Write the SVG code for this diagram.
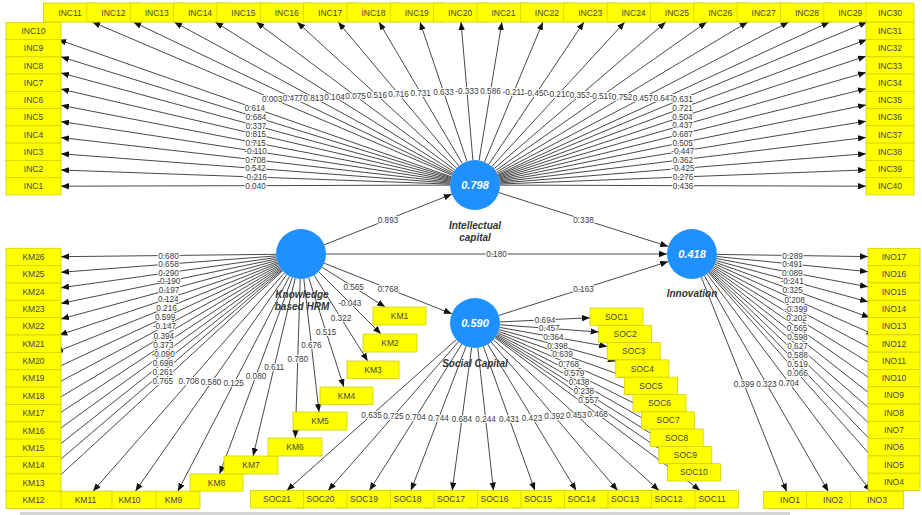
<svg xmlns="http://www.w3.org/2000/svg" width="922" height="515" viewBox="0 0 922 515">
<defs>
<style>
.c{stroke:#333;stroke-width:0.9;fill:none;marker-end:url(#ah)}
.v{font-family:"Liberation Sans",Arial,sans-serif;font-size:8.2px;fill:#3a3a3a;text-anchor:middle;stroke:#fff;stroke-width:2.2px;paint-order:stroke;stroke-linejoin:round}
.b{fill:#ffff00;stroke:#d2d200;stroke-width:0.8}
.t{font-family:"Liberation Sans",Arial,sans-serif;font-size:8.5px;fill:#444;text-anchor:middle}
.lv{fill:#1e90ff}
.cv{font-family:"Liberation Sans",Arial,sans-serif;font-size:11px;font-weight:bold;font-style:italic;fill:#fff;text-anchor:middle}
.cn{font-family:"Liberation Sans",Arial,sans-serif;font-size:10px;font-weight:bold;font-style:italic;fill:#333;text-anchor:middle}
</style>
<marker id="ah" viewBox="0 0 10 8" refX="10" refY="4" markerWidth="8" markerHeight="6.4" markerUnits="userSpaceOnUse" orient="auto"><path d="M0,0 L10,4 L0,8 z" fill="#111"/></marker>
</defs>
<rect width="922" height="515" fill="#fff"/>
<rect x="20" y="512" width="770" height="3" fill="#d4d4d4"/>

<g id="KHRM"><circle class="lv" cx="301" cy="254" r="25"/><text class="cn" x="302" y="297.5">Knowledge</text><text class="cn" x="302" y="310">based HRM</text></g>
<g id="IC"><circle class="lv" cx="475" cy="185" r="25"/><text class="cv" x="475" y="189">0.798</text><text class="cn" x="475" y="228.5">Intellectual</text><text class="cn" x="475" y="241">capital</text></g>
<g id="SC"><circle class="lv" cx="475" cy="323" r="25"/><text class="cv" x="475" y="327">0.590</text><text class="cn" x="475" y="366.5">Social Capital</text></g>
<g id="INN"><circle class="lv" cx="692" cy="254" r="25"/><text class="cv" x="692" y="258">0.418</text><text class="cn" x="692" y="297">Innovation</text></g>

<g id="connectors">
<line class="c" x1="452.0" y1="175.2" x2="92.3" y2="22"/>
<line class="c" x1="452.4" y1="174.2" x2="133.3" y2="22"/>
<line class="c" x1="453.0" y1="173.1" x2="174.2" y2="22"/>
<line class="c" x1="453.8" y1="171.7" x2="215.2" y2="22"/>
<line class="c" x1="455.0" y1="170.1" x2="256.2" y2="22"/>
<line class="c" x1="456.6" y1="168.1" x2="297.1" y2="22"/>
<line class="c" x1="458.9" y1="165.9" x2="338.1" y2="22"/>
<line class="c" x1="462.3" y1="163.5" x2="379.0" y2="22"/>
<line class="c" x1="467.0" y1="161.3" x2="420.0" y2="22"/>
<line class="c" x1="472.9" y1="160.1" x2="461.0" y2="22"/>
<line class="c" x1="479.1" y1="160.3" x2="501.9" y2="22"/>
<line class="c" x1="484.6" y1="161.9" x2="542.9" y2="22"/>
<line class="c" x1="488.9" y1="164.2" x2="583.9" y2="22"/>
<line class="c" x1="491.9" y1="166.6" x2="624.8" y2="22"/>
<line class="c" x1="494.0" y1="168.8" x2="665.8" y2="22"/>
<line class="c" x1="495.5" y1="170.6" x2="706.7" y2="22"/>
<line class="c" x1="496.5" y1="172.2" x2="747.7" y2="22"/>
<line class="c" x1="497.2" y1="173.5" x2="788.7" y2="22"/>
<line class="c" x1="497.7" y1="174.6" x2="829.6" y2="22"/>
<line class="c" x1="498.1" y1="175.4" x2="867.1" y2="22"/>
<line class="c" x1="451.4" y1="176.8" x2="58.1" y2="39.6"/>
<line class="c" x1="451.1" y1="177.6" x2="61" y2="56.8"/>
<line class="c" x1="450.9" y1="178.5" x2="61" y2="72.9"/>
<line class="c" x1="450.6" y1="179.4" x2="61" y2="89.1"/>
<line class="c" x1="450.4" y1="180.3" x2="61" y2="105.3"/>
<line class="c" x1="450.3" y1="181.2" x2="61" y2="121.5"/>
<line class="c" x1="450.2" y1="182.2" x2="61" y2="137.6"/>
<line class="c" x1="450.1" y1="183.1" x2="61" y2="153.8"/>
<line class="c" x1="450.0" y1="184.1" x2="61" y2="170.0"/>
<line class="c" x1="450.0" y1="185.1" x2="61" y2="186.2"/>
<line class="c" x1="498.4" y1="176.3" x2="866.8" y2="39.6"/>
<line class="c" x1="498.7" y1="177.2" x2="866" y2="56.2"/>
<line class="c" x1="499.0" y1="178.1" x2="866" y2="72.4"/>
<line class="c" x1="499.3" y1="179.0" x2="866" y2="88.7"/>
<line class="c" x1="499.5" y1="180.0" x2="866" y2="104.9"/>
<line class="c" x1="499.7" y1="181.0" x2="866" y2="121.2"/>
<line class="c" x1="499.8" y1="182.0" x2="866" y2="137.4"/>
<line class="c" x1="499.9" y1="183.0" x2="866" y2="153.7"/>
<line class="c" x1="500.0" y1="184.0" x2="866" y2="169.9"/>
<line class="c" x1="500.0" y1="185.1" x2="866" y2="186.2"/>
<line class="c" x1="324.2" y1="244.8" x2="451.8" y2="194.2"/>
<line class="c" x1="326" y1="254" x2="667" y2="254"/>
<line class="c" x1="324.2" y1="263.2" x2="451.8" y2="313.8"/>
<line class="c" x1="498.8" y1="192.6" x2="668.2" y2="246.4"/>
<line class="c" x1="498.8" y1="315.4" x2="668.2" y2="261.6"/>
<line class="c" x1="276.0" y1="254.3" x2="61" y2="256.7"/>
<line class="c" x1="276.1" y1="255.9" x2="61" y2="272.3"/>
<line class="c" x1="276.2" y1="257.5" x2="61" y2="287.8"/>
<line class="c" x1="276.5" y1="259.0" x2="61" y2="303.4"/>
<line class="c" x1="276.9" y1="260.5" x2="61" y2="319.0"/>
<line class="c" x1="277.3" y1="262.0" x2="59.3" y2="335.1"/>
<line class="c" x1="277.8" y1="263.3" x2="55.1" y2="352.4"/>
<line class="c" x1="278.3" y1="264.5" x2="52.1" y2="369.8"/>
<line class="c" x1="278.9" y1="265.7" x2="49.8" y2="387.1"/>
<line class="c" x1="279.5" y1="266.8" x2="48.0" y2="404.5"/>
<line class="c" x1="280.1" y1="267.8" x2="46.6" y2="421.8"/>
<line class="c" x1="280.8" y1="268.7" x2="45.4" y2="439.2"/>
<line class="c" x1="281.4" y1="269.5" x2="44.5" y2="456.5"/>
<line class="c" x1="282.0" y1="270.2" x2="43.6" y2="473.9"/>
<line class="c" x1="282.6" y1="270.9" x2="42.9" y2="491.2"/>
<line class="c" x1="284.5" y1="272.8" x2="93.0" y2="491.2"/>
<line class="c" x1="286.7" y1="274.5" x2="135.4" y2="491.2"/>
<line class="c" x1="289.5" y1="276.2" x2="177.9" y2="491.2"/>
<line class="c" x1="292.3" y1="277.5" x2="219.6" y2="474"/>
<line class="c" x1="295.2" y1="278.3" x2="253.1" y2="456"/>
<line class="c" x1="300.2" y1="279.0" x2="295.3" y2="438"/>
<line class="c" x1="303.8" y1="278.8" x2="319.0" y2="412"/>
<line class="c" x1="308.7" y1="277.8" x2="343.8" y2="387"/>
<line class="c" x1="314.2" y1="275.2" x2="367.7" y2="361"/>
<line class="c" x1="318.7" y1="271.7" x2="381.0" y2="334"/>
<line class="c" x1="322.2" y1="267.3" x2="385.2" y2="307"/>
<line class="c" x1="500.0" y1="321.9" x2="590" y2="317.8"/>
<line class="c" x1="499.9" y1="324.8" x2="598.6" y2="332.0"/>
<line class="c" x1="499.6" y1="327.4" x2="607.2" y2="346.5"/>
<line class="c" x1="499.1" y1="329.6" x2="615.8" y2="361.3"/>
<line class="c" x1="498.5" y1="331.4" x2="626.7" y2="377.2"/>
<line class="c" x1="497.9" y1="333.0" x2="639.6" y2="394.5"/>
<line class="c" x1="497.3" y1="334.3" x2="651.0" y2="411.8"/>
<line class="c" x1="496.7" y1="335.4" x2="661.5" y2="429.1"/>
<line class="c" x1="496.2" y1="336.3" x2="671.5" y2="446.4"/>
<line class="c" x1="495.7" y1="337.1" x2="681.2" y2="463.7"/>
<line class="c" x1="456.3" y1="339.6" x2="286.8" y2="490.5"/>
<line class="c" x1="458.5" y1="341.8" x2="328.2" y2="490.5"/>
<line class="c" x1="461.7" y1="344.2" x2="369.5" y2="490.5"/>
<line class="c" x1="466.1" y1="346.4" x2="410.9" y2="490.5"/>
<line class="c" x1="471.6" y1="347.8" x2="452.2" y2="490.5"/>
<line class="c" x1="477.8" y1="347.9" x2="493.5" y2="490.5"/>
<line class="c" x1="483.4" y1="346.5" x2="534.9" y2="490.5"/>
<line class="c" x1="487.9" y1="344.4" x2="576.2" y2="490.5"/>
<line class="c" x1="491.2" y1="342.0" x2="617.6" y2="490.5"/>
<line class="c" x1="493.5" y1="339.8" x2="658.9" y2="490.5"/>
<line class="c" x1="495.1" y1="337.9" x2="700.2" y2="490.5"/>
<line class="c" x1="717.0" y1="254.4" x2="868" y2="256.6"/>
<line class="c" x1="716.9" y1="256.5" x2="868" y2="271.7"/>
<line class="c" x1="716.6" y1="258.6" x2="868" y2="286.8"/>
<line class="c" x1="716.1" y1="260.6" x2="868" y2="301.8"/>
<line class="c" x1="715.5" y1="262.4" x2="869.8" y2="317.5"/>
<line class="c" x1="714.9" y1="264.1" x2="874.5" y2="334.8"/>
<line class="c" x1="714.1" y1="265.7" x2="877.6" y2="352.1"/>
<line class="c" x1="713.3" y1="267.1" x2="879.9" y2="369.4"/>
<line class="c" x1="712.5" y1="268.3" x2="881.6" y2="386.7"/>
<line class="c" x1="711.7" y1="269.4" x2="883.0" y2="404.0"/>
<line class="c" x1="710.9" y1="270.4" x2="884.1" y2="421.3"/>
<line class="c" x1="710.1" y1="271.3" x2="885.0" y2="438.6"/>
<line class="c" x1="709.3" y1="272.0" x2="885.7" y2="455.9"/>
<line class="c" x1="708.6" y1="272.7" x2="886.3" y2="473.2"/>
<line class="c" x1="701.3" y1="277.2" x2="786.7" y2="491.5"/>
<line class="c" x1="704.4" y1="275.7" x2="828.3" y2="491.5"/>
<line class="c" x1="707.0" y1="274.0" x2="870.8" y2="491.5"/>

<text class="v" x="272.2" y="101.6">0.003</text>
<text class="v" x="292.9" y="101.1">0.477</text>
<text class="v" x="313.6" y="100.6">0.813</text>
<text class="v" x="334.5" y="99.9">0.104</text>
<text class="v" x="355.6" y="99.0">0.075</text>
<text class="v" x="376.9" y="98.1">0.516</text>
<text class="v" x="398.5" y="97.0">0.716</text>
<text class="v" x="420.7" y="95.8">0.731</text>
<text class="v" x="443.5" y="94.7">0.633</text>
<text class="v" x="466.9" y="94.0">-0.333</text>
<text class="v" x="490.5" y="94.2">0.586</text>
<text class="v" x="513.8" y="95.0">-0.211</text>
<text class="v" x="536.4" y="96.1">-0.450</text>
<text class="v" x="558.4" y="97.3">-0.210</text>
<text class="v" x="579.9" y="98.4">0.353</text>
<text class="v" x="601.1" y="99.3">-0.519</text>
<text class="v" x="622.1" y="100.1">0.752</text>
<text class="v" x="642.9" y="100.7">0.457</text>
<text class="v" x="663.7" y="101.3">0.647</text>
<text class="v" x="682.6" y="101.7">0.631</text>
<text class="v" x="254.8" y="111.2">0.614</text>
<text class="v" x="256.1" y="120.2">0.684</text>
<text class="v" x="256.0" y="128.7">0.337</text>
<text class="v" x="255.8" y="137.3">0.815</text>
<text class="v" x="255.7" y="145.8">0.715</text>
<text class="v" x="255.6" y="154.3">-0.110</text>
<text class="v" x="255.6" y="162.9">0.708</text>
<text class="v" x="255.5" y="171.4">0.542</text>
<text class="v" x="255.5" y="180.0">-0.216</text>
<text class="v" x="255.5" y="188.6">0.040</text>
<text class="v" x="682.6" y="111.0">0.721</text>
<text class="v" x="682.4" y="119.7">0.504</text>
<text class="v" x="682.5" y="128.3">0.437</text>
<text class="v" x="682.6" y="136.8">0.687</text>
<text class="v" x="682.7" y="145.5">0.505</text>
<text class="v" x="682.8" y="154.1">-0.447</text>
<text class="v" x="682.9" y="162.7">0.362</text>
<text class="v" x="682.9" y="171.4">-0.425</text>
<text class="v" x="683.0" y="180.0">0.276</text>
<text class="v" x="683.0" y="188.6">0.436</text>
<text class="v" x="388" y="222.5">0.893</text>
<text class="v" x="496.5" y="257">0.180</text>
<text class="v" x="388" y="291.5">0.768</text>
<text class="v" x="583.5" y="222.5">0.338</text>
<text class="v" x="583.5" y="291.5">0.163</text>
<text class="v" x="168.5" y="258.5">0.680</text>
<text class="v" x="168.5" y="267.1">0.658</text>
<text class="v" x="168.6" y="275.7">0.290</text>
<text class="v" x="168.8" y="284.2">-0.190</text>
<text class="v" x="169.0" y="292.7">0.197</text>
<text class="v" x="168.3" y="301.5">0.124</text>
<text class="v" x="166.5" y="310.9">0.216</text>
<text class="v" x="165.2" y="320.2">0.599</text>
<text class="v" x="164.4" y="329.4">-0.147</text>
<text class="v" x="163.8" y="338.6">0.394</text>
<text class="v" x="163.4" y="347.8">0.373</text>
<text class="v" x="163.1" y="357.0">-0.090</text>
<text class="v" x="162.9" y="366.0">0.698</text>
<text class="v" x="162.8" y="375.1">0.261</text>
<text class="v" x="162.8" y="384.1">0.765</text>
<text class="v" x="188.8" y="384.0">0.708</text>
<text class="v" x="211.0" y="384.9">0.580</text>
<text class="v" x="233.7" y="385.7">0.125</text>
<text class="v" x="256.0" y="378.7">0.080</text>
<text class="v" x="274.2" y="370.2">0.611</text>
<text class="v" x="297.8" y="361.5">0.780</text>
<text class="v" x="311.4" y="348.4">0.676</text>
<text class="v" x="326.2" y="335.4">0.515</text>
<text class="v" x="341.0" y="321.1">0.322</text>
<text class="v" x="349.8" y="305.9">-0.043</text>
<text class="v" x="353.7" y="290.2">0.565</text>
<text class="v" x="545.0" y="322.8">0.694</text>
<text class="v" x="549.3" y="331.4">0.457</text>
<text class="v" x="553.4" y="340.0">0.364</text>
<text class="v" x="557.5" y="348.5">0.398</text>
<text class="v" x="562.6" y="357.3">0.639</text>
<text class="v" x="568.8" y="366.7">0.768</text>
<text class="v" x="574.2" y="376.0">0.579</text>
<text class="v" x="579.1" y="385.2">0.438</text>
<text class="v" x="583.8" y="394.3">0.238</text>
<text class="v" x="588.4" y="403.4">0.557</text>
<text class="v" x="371.6" y="418.1">0.635</text>
<text class="v" x="393.4" y="419.2">0.725</text>
<text class="v" x="415.6" y="420.4">0.704</text>
<text class="v" x="438.5" y="421.4">0.744</text>
<text class="v" x="461.9" y="422.1">0.684</text>
<text class="v" x="485.6" y="422.2">0.244</text>
<text class="v" x="509.2" y="421.5">0.431</text>
<text class="v" x="532.0" y="420.5">0.423</text>
<text class="v" x="554.4" y="419.3">0.392</text>
<text class="v" x="576.2" y="418.2">0.453</text>
<text class="v" x="597.6" y="417.2">0.468</text>
<text class="v" x="792.5" y="258.5">0.289</text>
<text class="v" x="792.4" y="267.1">0.491</text>
<text class="v" x="792.3" y="275.7">0.089</text>
<text class="v" x="792.1" y="284.2">-0.241</text>
<text class="v" x="792.7" y="293.0">0.325</text>
<text class="v" x="794.7" y="302.5">0.208</text>
<text class="v" x="795.9" y="311.9">-0.399</text>
<text class="v" x="796.6" y="321.3">0.202</text>
<text class="v" x="797.1" y="330.5">0.565</text>
<text class="v" x="797.4" y="339.7">0.598</text>
<text class="v" x="797.5" y="348.9">0.627</text>
<text class="v" x="797.5" y="358.0">0.588</text>
<text class="v" x="797.5" y="367.0">0.519</text>
<text class="v" x="797.5" y="376.0">0.066</text>
<text class="v" x="744.0" y="387.4">0.399</text>
<text class="v" x="766.4" y="386.6">0.323</text>
<text class="v" x="788.9" y="385.8">0.704</text>
</g>

<g id="INC11"><rect class="b" x="43.5" y="3" width="53" height="19"/><text class="t" x="70" y="15.5">INC11</text></g>
<g id="INC12"><rect class="b" x="86.85" y="3" width="53" height="19"/><text class="t" x="113.35" y="15.5">INC12</text></g>
<g id="INC13"><rect class="b" x="130.2" y="3" width="53" height="19"/><text class="t" x="156.7" y="15.5">INC13</text></g>
<g id="INC14"><rect class="b" x="173.55" y="3" width="53" height="19"/><text class="t" x="200.05" y="15.5">INC14</text></g>
<g id="INC15"><rect class="b" x="216.9" y="3" width="53" height="19"/><text class="t" x="243.4" y="15.5">INC15</text></g>
<g id="INC16"><rect class="b" x="260.25" y="3" width="53" height="19"/><text class="t" x="286.75" y="15.5">INC16</text></g>
<g id="INC17"><rect class="b" x="303.6" y="3" width="53" height="19"/><text class="t" x="330.1" y="15.5">INC17</text></g>
<g id="INC18"><rect class="b" x="346.95" y="3" width="53" height="19"/><text class="t" x="373.45" y="15.5">INC18</text></g>
<g id="INC19"><rect class="b" x="390.3" y="3" width="53" height="19"/><text class="t" x="416.8" y="15.5">INC19</text></g>
<g id="INC20"><rect class="b" x="433.65" y="3" width="53" height="19"/><text class="t" x="460.15" y="15.5">INC20</text></g>
<g id="INC21"><rect class="b" x="477" y="3" width="53" height="19"/><text class="t" x="503.5" y="15.5">INC21</text></g>
<g id="INC22"><rect class="b" x="520.35" y="3" width="53" height="19"/><text class="t" x="546.85" y="15.5">INC22</text></g>
<g id="INC23"><rect class="b" x="563.7" y="3" width="53" height="19"/><text class="t" x="590.2" y="15.5">INC23</text></g>
<g id="INC24"><rect class="b" x="607.05" y="3" width="53" height="19"/><text class="t" x="633.55" y="15.5">INC24</text></g>
<g id="INC25"><rect class="b" x="650.4" y="3" width="53" height="19"/><text class="t" x="676.9" y="15.5">INC25</text></g>
<g id="INC26"><rect class="b" x="693.75" y="3" width="53" height="19"/><text class="t" x="720.25" y="15.5">INC26</text></g>
<g id="INC27"><rect class="b" x="737.1" y="3" width="53" height="19"/><text class="t" x="763.6" y="15.5">INC27</text></g>
<g id="INC28"><rect class="b" x="780.45" y="3" width="53" height="19"/><text class="t" x="806.95" y="15.5">INC28</text></g>
<g id="INC29"><rect class="b" x="823.8" y="3" width="53" height="19"/><text class="t" x="850.3" y="15.5">INC29</text></g>
<g id="INC30"><rect class="b" x="866" y="3" width="48" height="19"/><text class="t" x="890" y="15.5">INC30</text></g>

<g id="INC10"><rect class="b" x="6" y="22.4" width="55" height="17.25"/><text class="t" x="33.5" y="34">INC10</text></g>
<g id="INC9"><rect class="b" x="6" y="39.65" width="55" height="17.25"/><text class="t" x="33.5" y="51.25">INC9</text></g>
<g id="INC8"><rect class="b" x="6" y="56.9" width="55" height="17.25"/><text class="t" x="33.5" y="68.5">INC8</text></g>
<g id="INC7"><rect class="b" x="6" y="74.15" width="55" height="17.25"/><text class="t" x="33.5" y="85.75">INC7</text></g>
<g id="INC6"><rect class="b" x="6" y="91.4" width="55" height="17.25"/><text class="t" x="33.5" y="103">INC6</text></g>
<g id="INC5"><rect class="b" x="6" y="108.65" width="55" height="17.25"/><text class="t" x="33.5" y="120.25">INC5</text></g>
<g id="INC4"><rect class="b" x="6" y="125.9" width="55" height="17.25"/><text class="t" x="33.5" y="137.5">INC4</text></g>
<g id="INC3"><rect class="b" x="6" y="143.15" width="55" height="17.25"/><text class="t" x="33.5" y="154.75">INC3</text></g>
<g id="INC2"><rect class="b" x="6" y="160.4" width="55" height="17.25"/><text class="t" x="33.5" y="172">INC2</text></g>
<g id="INC1"><rect class="b" x="6" y="177.65" width="55" height="17.25"/><text class="t" x="33.5" y="189.25">INC1</text></g>

<g id="INC31"><rect class="b" x="866" y="22.4" width="48" height="17.25"/><text class="t" x="890" y="34">INC31</text></g>
<g id="INC32"><rect class="b" x="866" y="39.65" width="48" height="17.25"/><text class="t" x="890" y="51.25">INC32</text></g>
<g id="INC33"><rect class="b" x="866" y="56.9" width="48" height="17.25"/><text class="t" x="890" y="68.5">INC33</text></g>
<g id="INC34"><rect class="b" x="866" y="74.15" width="48" height="17.25"/><text class="t" x="890" y="85.75">INC34</text></g>
<g id="INC35"><rect class="b" x="866" y="91.4" width="48" height="17.25"/><text class="t" x="890" y="103">INC35</text></g>
<g id="INC36"><rect class="b" x="866" y="108.65" width="48" height="17.25"/><text class="t" x="890" y="120.25">INC36</text></g>
<g id="INC37"><rect class="b" x="866" y="125.9" width="48" height="17.25"/><text class="t" x="890" y="137.5">INC37</text></g>
<g id="INC38"><rect class="b" x="866" y="143.15" width="48" height="17.25"/><text class="t" x="890" y="154.75">INC38</text></g>
<g id="INC39"><rect class="b" x="866" y="160.4" width="48" height="17.25"/><text class="t" x="890" y="172">INC39</text></g>
<g id="INC40"><rect class="b" x="866" y="177.65" width="48" height="17.25"/><text class="t" x="890" y="189.25">INC40</text></g>

<g id="KM26"><rect class="b" x="6" y="248.3" width="55" height="17.35"/><text class="t" x="33.5" y="260">KM26</text></g>
<g id="KM25"><rect class="b" x="6" y="265.65" width="55" height="17.35"/><text class="t" x="33.5" y="277.35">KM25</text></g>
<g id="KM24"><rect class="b" x="6" y="283" width="55" height="17.35"/><text class="t" x="33.5" y="294.7">KM24</text></g>
<g id="KM23"><rect class="b" x="6" y="300.35" width="55" height="17.35"/><text class="t" x="33.5" y="312.05">KM23</text></g>
<g id="KM22"><rect class="b" x="6" y="317.7" width="55" height="17.35"/><text class="t" x="33.5" y="329.4">KM22</text></g>
<g id="KM21"><rect class="b" x="6" y="335.05" width="55" height="17.35"/><text class="t" x="33.5" y="346.75">KM21</text></g>
<g id="KM20"><rect class="b" x="6" y="352.4" width="55" height="17.35"/><text class="t" x="33.5" y="364.1">KM20</text></g>
<g id="KM19"><rect class="b" x="6" y="369.75" width="55" height="17.35"/><text class="t" x="33.5" y="381.45">KM19</text></g>
<g id="KM18"><rect class="b" x="6" y="387.1" width="55" height="17.35"/><text class="t" x="33.5" y="398.8">KM18</text></g>
<g id="KM17"><rect class="b" x="6" y="404.45" width="55" height="17.35"/><text class="t" x="33.5" y="416.15">KM17</text></g>
<g id="KM16"><rect class="b" x="6" y="421.8" width="55" height="17.35"/><text class="t" x="33.5" y="433.5">KM16</text></g>
<g id="KM15"><rect class="b" x="6" y="439.15" width="55" height="17.35"/><text class="t" x="33.5" y="450.85">KM15</text></g>
<g id="KM14"><rect class="b" x="6" y="456.5" width="55" height="17.35"/><text class="t" x="33.5" y="468.2">KM14</text></g>
<g id="KM13"><rect class="b" x="6" y="473.85" width="55" height="17.35"/><text class="t" x="33.5" y="485.55">KM13</text></g>
<g id="KM9"><rect class="b" x="147" y="491.2" width="53" height="17.35"/><text class="t" x="173.5" y="502.9">KM9</text></g>
<g id="KM10"><rect class="b" x="103" y="491.2" width="53" height="17.35"/><text class="t" x="129.5" y="502.9">KM10</text></g>
<g id="KM11"><rect class="b" x="59" y="491.2" width="53" height="17.35"/><text class="t" x="85.5" y="502.9">KM11</text></g>
<g id="KM12"><rect class="b" x="6" y="491.2" width="55" height="17.35"/><text class="t" x="33.5" y="502.9">KM12</text></g>
<g id="KM8"><rect class="b" x="190" y="474" width="53" height="17.2"/><text class="t" x="216.5" y="485.6">KM8</text></g>
<g id="KM7"><rect class="b" x="224" y="456" width="54" height="18"/><text class="t" x="251" y="468">KM7</text></g>
<g id="KM6"><rect class="b" x="268" y="438" width="54" height="18"/><text class="t" x="295" y="450">KM6</text></g>
<g id="KM5"><rect class="b" x="293" y="412" width="54" height="18"/><text class="t" x="320" y="424">KM5</text></g>
<g id="KM4"><rect class="b" x="320" y="387" width="53" height="17.5"/><text class="t" x="346.5" y="398.7">KM4</text></g>
<g id="KM3"><rect class="b" x="347" y="361" width="52" height="17.5"/><text class="t" x="373" y="372.7">KM3</text></g>
<g id="KM2"><rect class="b" x="363" y="334" width="54" height="18"/><text class="t" x="390" y="346">KM2</text></g>
<g id="KM1"><rect class="b" x="373" y="307" width="53" height="18"/><text class="t" x="399.5" y="319">KM1</text></g>

<g id="SOC1"><rect class="b" x="590" y="308" width="53" height="17.3"/><text class="t" x="616.5" y="319.6">SOC1</text></g>
<g id="SOC2"><rect class="b" x="598.6" y="325.3" width="53" height="17.3"/><text class="t" x="625.1" y="336.9">SOC2</text></g>
<g id="SOC3"><rect class="b" x="607.2" y="342.6" width="53" height="17.3"/><text class="t" x="633.7" y="354.2">SOC3</text></g>
<g id="SOC4"><rect class="b" x="615.8" y="359.9" width="53" height="17.3"/><text class="t" x="642.3" y="371.5">SOC4</text></g>
<g id="SOC5"><rect class="b" x="624.4" y="377.2" width="53" height="17.3"/><text class="t" x="650.9" y="388.8">SOC5</text></g>
<g id="SOC6"><rect class="b" x="633" y="394.5" width="53" height="17.3"/><text class="t" x="659.5" y="406.1">SOC6</text></g>
<g id="SOC7"><rect class="b" x="641.6" y="411.8" width="53" height="17.3"/><text class="t" x="668.1" y="423.4">SOC7</text></g>
<g id="SOC8"><rect class="b" x="650.2" y="429.1" width="53" height="17.3"/><text class="t" x="676.7" y="440.7">SOC8</text></g>
<g id="SOC9"><rect class="b" x="658.8" y="446.4" width="53" height="17.3"/><text class="t" x="685.3" y="458">SOC9</text></g>
<g id="SOC10"><rect class="b" x="667.4" y="463.7" width="53" height="17.3"/><text class="t" x="693.9" y="475.3">SOC10</text></g>

<g id="SOC11"><rect class="b" x="685.5" y="490.5" width="53" height="17.5"/><text class="t" x="712" y="502.3">SOC11</text></g>
<g id="SOC12"><rect class="b" x="642" y="490.5" width="53" height="17.5"/><text class="t" x="668.5" y="502.3">SOC12</text></g>
<g id="SOC13"><rect class="b" x="598.5" y="490.5" width="53" height="17.5"/><text class="t" x="625" y="502.3">SOC13</text></g>
<g id="SOC14"><rect class="b" x="555" y="490.5" width="53" height="17.5"/><text class="t" x="581.5" y="502.3">SOC14</text></g>
<g id="SOC15"><rect class="b" x="511.5" y="490.5" width="53" height="17.5"/><text class="t" x="538" y="502.3">SOC15</text></g>
<g id="SOC16"><rect class="b" x="468" y="490.5" width="53" height="17.5"/><text class="t" x="494.5" y="502.3">SOC16</text></g>
<g id="SOC17"><rect class="b" x="424.5" y="490.5" width="53" height="17.5"/><text class="t" x="451" y="502.3">SOC17</text></g>
<g id="SOC18"><rect class="b" x="381" y="490.5" width="53" height="17.5"/><text class="t" x="407.5" y="502.3">SOC18</text></g>
<g id="SOC19"><rect class="b" x="337.5" y="490.5" width="53" height="17.5"/><text class="t" x="364" y="502.3">SOC19</text></g>
<g id="SOC20"><rect class="b" x="294" y="490.5" width="53" height="17.5"/><text class="t" x="320.5" y="502.3">SOC20</text></g>
<g id="SOC21"><rect class="b" x="250.5" y="490.5" width="53" height="17.5"/><text class="t" x="277" y="502.3">SOC21</text></g>

<g id="INO17"><rect class="b" x="868" y="248.35" width="52" height="17.3"/><text class="t" x="894" y="260">INO17</text></g>
<g id="INO16"><rect class="b" x="868" y="265.65" width="52" height="17.3"/><text class="t" x="894" y="277.3">INO16</text></g>
<g id="INO15"><rect class="b" x="868" y="282.95" width="52" height="17.3"/><text class="t" x="894" y="294.6">INO15</text></g>
<g id="INO14"><rect class="b" x="868" y="300.25" width="52" height="17.3"/><text class="t" x="894" y="311.9">INO14</text></g>
<g id="INO13"><rect class="b" x="868" y="317.55" width="52" height="17.3"/><text class="t" x="894" y="329.2">INO13</text></g>
<g id="INO12"><rect class="b" x="868" y="334.85" width="52" height="17.3"/><text class="t" x="894" y="346.5">INO12</text></g>
<g id="INO11"><rect class="b" x="868" y="352.15" width="52" height="17.3"/><text class="t" x="894" y="363.8">INO11</text></g>
<g id="INO10"><rect class="b" x="868" y="369.45" width="52" height="17.3"/><text class="t" x="894" y="381.1">INO10</text></g>
<g id="INO9"><rect class="b" x="868" y="386.75" width="52" height="17.3"/><text class="t" x="894" y="398.4">INO9</text></g>
<g id="INO8"><rect class="b" x="868" y="404.05" width="52" height="17.3"/><text class="t" x="894" y="415.7">INO8</text></g>
<g id="INO7"><rect class="b" x="868" y="421.35" width="52" height="17.3"/><text class="t" x="894" y="433">INO7</text></g>
<g id="INO6"><rect class="b" x="868" y="438.65" width="52" height="17.3"/><text class="t" x="894" y="450.3">INO6</text></g>
<g id="INO5"><rect class="b" x="868" y="455.95" width="52" height="17.3"/><text class="t" x="894" y="467.6">INO5</text></g>
<g id="INO4"><rect class="b" x="868" y="473.25" width="52" height="17.3"/><text class="t" x="894" y="484.9">INO4</text></g>
<g id="INO1"><rect class="b" x="763.5" y="491.5" width="53" height="17"/><text class="t" x="790" y="503">INO1</text></g>
<g id="INO2"><rect class="b" x="806.5" y="491.5" width="53" height="17"/><text class="t" x="833" y="503">INO2</text></g>
<g id="INO3"><rect class="b" x="850.5" y="491.5" width="53" height="17"/><text class="t" x="877" y="503">INO3</text></g>
</svg>
